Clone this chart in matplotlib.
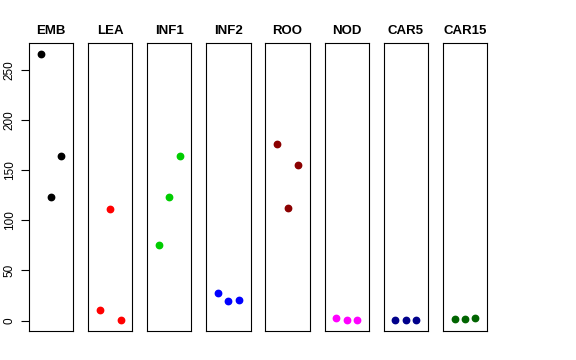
import numpy as np
import matplotlib
matplotlib.use('Agg')
import matplotlib.pyplot as plt

plt.rcParams['font.family'] = ['Liberation Sans', 'DejaVu Sans']

# panel names and values (3 points each at x = 1, 2, 3)
groups = ['EMB', 'LEA', 'INF1', 'INF2', 'ROO', 'NOD', 'CAR5', 'CAR15']
x = [1, 2, 3]
emb = [266, 123, 164]
lea = [11, 111, 1]
inf1 = [75, 123, 164]
inf2 = [28, 20, 21]
roo = [176, 112, 155]
nod = [3, 0.3, 0.3]
car5 = [0.5, 0.5, 0.5]
car15 = [1.5, 1.2, 2.5]
values = [emb, lea, inf1, inf2, roo, nod, car5, car15]
colors = ['black', '#FF0000', '#00CD00', '#0000FF', '#8B0000', '#FF00FF', '#00008B', '#006400']
yticks = [0, 50, 100, 150, 200, 250]

W, H = 576, 360
fig = plt.figure(figsize=(W / 100, H / 100), dpi=100)

left0 = 29.0
step = 59.1
pw = 44.3
top = 43.0
bottom = 331.0

ymax = max(max(v) for v in values)
ymin = min(min(v) for v in values)
pad = (ymax - ymin) * 0.04

for i, (name, vals, col) in enumerate(zip(groups, values, colors)):
    l = left0 + i * step
    ax = fig.add_axes([l / W, (H - bottom) / H, pw / W, (bottom - top) / H])
    ax.plot(x, vals, 'o', color=col, ms=4.6, mec=col)
    ax.set_xlim(0 - 0.16, 4 + 0.16)
    ax.set_ylim(ymin - pad, ymax + pad)
    ax.set_xticks([])
    for s in ax.spines.values():
        s.set_linewidth(0.8)
    ax.set_title(name, fontsize=9.5, fontweight='bold', pad=6.5)
    if i == 0:
        ax.set_yticks(yticks)
        ax.set_yticklabels([str(t) for t in yticks], rotation=90, va='center', fontsize=8.5)
        ax.tick_params(axis='y', length=6, width=0.8, pad=3.5)
    else:
        ax.set_yticks([])

plt.savefig('out.png', dpi=100)
